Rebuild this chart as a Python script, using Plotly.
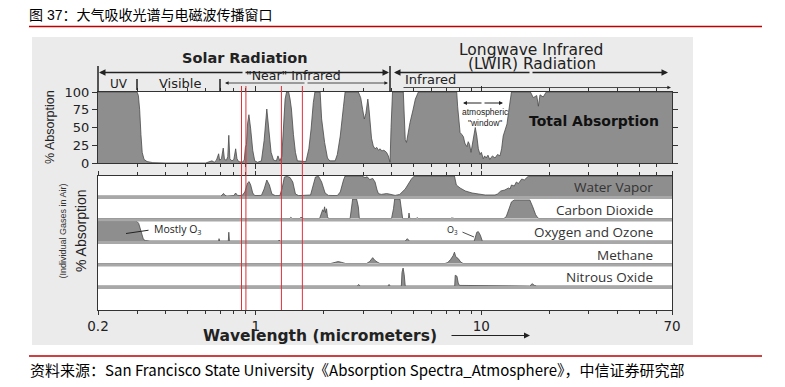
import math
import plotly.graph_objects as go

W, H = 785, 387
def fx(x): return x / W
def fy(y): return 1 - y / H

# ---------------- data ----------------
total_wl = [0.2, 0.298, 0.302, 0.306, 0.310, 0.314, 0.320, 0.330, 0.350, 0.40, 0.60, 0.62, 0.64, 0.655, 0.67,
            0.685, 0.692, 0.705, 0.718, 0.727, 0.742, 0.752, 0.760, 0.768, 0.785, 0.80, 0.815, 0.826, 0.84,
            0.87, 0.89, 0.90, 0.91, 0.92, 0.933, 0.95, 0.97, 0.99, 1.02, 1.06, 1.09, 1.12, 1.14, 1.17, 1.20,
            1.235, 1.255, 1.28, 1.305, 1.32, 1.35, 1.37, 1.40, 1.42, 1.44, 1.47, 1.50, 1.53, 1.60, 1.67, 1.72,
            1.76, 1.80, 1.83, 1.93, 1.96, 2.02, 2.08, 2.13, 2.25, 2.30, 2.37, 2.45, 2.49, 2.85, 2.92, 2.98,
            3.03, 3.08, 3.14, 3.18, 3.21, 3.26, 3.32, 3.38, 3.44, 3.50, 3.56, 3.62, 3.70, 3.80, 3.87, 3.94,
            3.98, 4.04, 4.51, 4.55, 4.60, 4.66, 4.72, 4.83, 4.99, 5.10, 5.26, 7.78, 7.85, 7.93, 8.05, 8.20,
            8.33, 8.45, 8.63, 8.75, 8.87, 9.0, 9.15, 9.3, 9.4, 9.55, 9.7, 9.87, 10.0, 10.2, 10.35, 10.5, 10.7,
            10.9, 11.2, 11.5, 11.8, 12.1, 12.3, 12.5, 12.8, 13.0, 13.2, 13.4, 13.6, 16.5, 17.0, 17.6, 17.9,
            18.2, 18.8, 19.4, 70]
total_abs = [100, 100, 95, 75, 40, 15, 5, 2, 0.5, 0, 0, 2, 3, 1, 4,
             13, 4, 6, 21, 5, 4, 9, 39, 6, 3, 5, 20, 6, 2,
             1, 4, 22, 26, 55, 68, 48, 18, 3, 1, 3, 32, 76, 55, 15, 4,
             3, 10, 3, 9, 40, 90, 100, 100, 90, 76, 40, 15, 3, 2, 2, 20,
             48, 85, 100, 100, 62, 29, 7, 3, 3, 12, 38, 80, 100, 100, 92, 75,
             62, 70, 90, 75, 58, 35, 24, 20, 22, 18, 20, 17, 18, 15, 10, 1,
             50, 100, 100, 60, 33, 29, 40, 57, 76, 90, 100, 100, 80, 62, 43, 40,
             37, 28, 23, 30, 26, 15, 28, 40, 50, 38, 20, 12, 15, 6, 10, 7, 11,
             5, 10, 7, 12, 10, 20, 38, 48, 55, 71, 90, 100, 100, 92, 95, 80,
             96, 93, 100, 100]

water_wl = [0.2, 0.58, 0.59, 0.60, 0.645, 0.655, 0.665, 0.70, 0.71, 0.72, 0.73, 0.745, 0.80, 0.815, 0.83,
            0.87, 0.895, 0.905, 0.92, 0.935, 0.95, 0.97, 0.99, 1.06, 1.09, 1.12, 1.15, 1.18, 1.22, 1.28,
            1.31, 1.34, 1.38, 1.42, 1.46, 1.50, 1.55, 1.75, 1.80, 1.84, 1.90, 1.96, 2.03, 2.10, 2.30, 2.37,
            2.45, 2.49, 2.95, 3.05, 3.12, 3.20, 3.30, 3.38, 3.45, 3.50, 3.60, 3.70, 3.80, 3.90, 4.0, 4.15,
            4.35, 4.6, 4.9, 5.05, 7.6, 7.75, 8.05, 8.5, 9.1, 9.75, 10.4, 11.5, 11.8, 12.2, 12.7, 13.2, 13.4,
            13.6, 14.0, 14.3, 14.6, 15.1, 15.5, 16.2, 70]
water_abs = [0, 0, 2, 0, 0, 2, 0, 0, 5, 13, 4, 0, 2, 15, 3,
             2, 20, 40, 65, 72, 55, 15, 2, 3, 35, 80, 55, 10, 2, 2,
             40, 95, 98, 92, 70, 10, 2, 5, 60, 95, 98, 70, 15, 3, 2, 20,
             80, 100, 100, 92, 96, 82, 88, 70, 30, 12, 8, 10, 12, 10, 6, 3,
             8, 35, 85, 100, 100, 55, 40, 25, 15, 8, 5, 5, 10, 25, 30, 40, 35,
             55, 50, 70, 62, 85, 80, 100, 100]

co2_wl = [0.2, 1.42, 1.43, 1.45, 1.57, 1.58, 1.61, 1.62, 1.92, 1.95, 1.98, 2.0, 2.02, 2.04, 2.06, 2.08,
          2.1, 2.62, 2.66, 2.69, 2.8, 2.85, 2.88, 4.0, 4.08, 4.13, 4.36, 4.42, 4.48, 4.75, 4.78, 4.82,
          5.15, 5.2, 5.25, 7.3, 7.4, 7.6, 8.0, 8.1, 8.4, 12.6, 12.9, 13.2, 13.6, 14.0, 16.4, 16.9, 17.4,
          17.8, 18.0, 70]
co2_abs = [0, 0, 6, 0, 0, 5, 5, 0, 0, 20, 45, 35, 60, 30, 50, 10,
           0, 0, 60, 100, 100, 60, 0, 0, 50, 100, 100, 40, 0, 0, 28, 0,
           0, 5, 0, 0, 3, 0, 0, 3, 0, 0, 10, 40, 85, 95, 95, 60, 20,
           3, 0, 0]

oz_wl = [0.2, 0.298, 0.303, 0.308, 0.313, 0.318, 0.325, 0.34, 0.685, 0.688, 0.692, 0.756, 0.760, 0.765,
         1.26, 1.27, 1.28, 3.2, 3.25, 3.3, 4.6, 4.7, 4.8, 9.3, 9.42, 9.55, 9.7, 9.9, 10.1, 13.0, 13.5,
         15.0, 16.0, 70]
oz_abs = [100, 100, 90, 60, 25, 8, 2, 0, 0, 12, 0, 0, 45, 0,
          0, 5, 0, 0, 3, 0, 0, 12, 0, 0, 20, 45, 48, 30, 0, 0, 3,
          3, 0, 0]

ch4_wl = [0.2, 1.64, 1.67, 1.70, 2.15, 2.25, 2.32, 2.4, 2.5, 3.1, 3.2, 3.3, 3.36, 3.45, 3.55, 6.9, 7.1,
          7.3, 7.5, 7.6, 7.7, 7.9, 8.1, 8.3, 70]
ch4_abs = [0, 0, 3, 0, 0, 6, 10, 6, 0, 0, 10, 30, 18, 8, 0, 0, 5,
           20, 40, 58, 35, 25, 8, 0, 0]

n2o_wl = [0.2, 2.82, 2.86, 2.9, 3.86, 3.9, 3.94, 4.42, 4.45, 4.5, 4.55, 4.6, 7.62, 7.66, 7.8, 7.9, 8.0,
          8.6, 8.7, 16.4, 16.8, 17.2, 17.6, 70]
n2o_abs = [0, 0, 8, 0, 0, 8, 0, 0, 70, 92, 60, 0, 0, 55, 50, 15, 3,
           3, 0, 0, 12, 3, 0, 0]

red_wl = [0.865, 0.905, 1.30, 1.61]

x_ticks = [0.2, 1, 10, 70]
x_ticktext = ["0.2", "1", "10", "70"]
x_minor = [0.3, 0.4, 0.5, 0.6, 0.7, 0.8, 0.9, 2, 3, 4, 5, 6, 7, 8, 9, 20, 30, 40, 50, 60]
y_ticks = [0, 25, 50, 75, 100]

gas_names = ["Water Vapor", "Carbon Dioxide", "Oxygen and Ozone", "Methane", "Nitrous Oxide"]

title = "图 37：大气吸收光谱与电磁波传播窗口"
source = "资料来源：San Francisco State University《Absorption Spectra_Atmosphere》，中信证券研究部"

# ---------------- style ----------------
FILL = "#8e8e8e"
LINE = "#4a4a4a"
AX = "#333333"
DEJ = "DejaVu Sans"
LIB = "Liberation Sans"
CJK = "Noto Sans CJK SC"
OPEN = "Open Sans"
LOGR = [math.log10(0.2), math.log10(70)]
XD = [fx(98), fx(672)]

fig = go.Figure()
layout = dict(width=W, height=H, margin=dict(l=0, r=0, t=0, b=0, autoexpand=False),
              paper_bgcolor="white", plot_bgcolor="rgba(0,0,0,0)",
              showlegend=False, shapes=[], annotations=[])

def sfx(i):
    return "" if i == 1 else str(i)

panels = [
    (total_wl, total_abs, 92, 163),
    (water_wl, water_abs, 176, 196),
    (co2_wl, co2_abs, 199, 218.5),
    (oz_wl, oz_abs, 221.5, 241),
    (ch4_wl, ch4_abs, 244, 263.5),
    (n2o_wl, n2o_abs, 266.5, 286),
]
for i, (wl, ab, top, bot) in enumerate(panels, start=1):
    s = sfx(i)
    fig.add_trace(go.Scatter(x=wl, y=ab, xaxis="x" + s, yaxis="y" + s, mode="lines",
                             fill="tozeroy", fillcolor=FILL,
                             line=dict(color=LINE, width=0.8), hoverinfo="skip"))
    layout["xaxis" + s] = dict(type="log", range=LOGR, domain=XD, anchor="y" + s, visible=False)
    layout["yaxis" + s] = dict(range=[0, 100], domain=[fy(bot), fy(top)], anchor="x" + s, visible=False)

# total panel axes visible
layout["xaxis"] = dict(type="log", range=LOGR, domain=XD, anchor="y", visible=True,
                       showline=True, linecolor=AX, linewidth=1, mirror="ticks",
                       ticks="outside", ticklen=5, tickcolor=AX, tickvals=[1, 10],
                       showticklabels=False, showgrid=False, zeroline=False,
                       minor=dict(tickvals=x_minor, ticks="outside", ticklen=3, tickcolor=AX, showgrid=False))
layout["yaxis"] = dict(range=[0, 100], domain=[fy(163), fy(92)], anchor="x", visible=True,
                       showline=True, linecolor=AX, linewidth=1, mirror="ticks",
                       ticks="outside", ticklen=5, tickcolor=AX, tickvals=y_ticks,
                       tickfont=dict(family=DEJ, size=13, color="#222"),
                       showgrid=False, zeroline=False)

# frame axis for gas panels (bottom wavelength axis)
fig.add_trace(go.Scatter(x=[0.2, 70], y=[0, 0], xaxis="x7", yaxis="y7", mode="lines",
                         opacity=0, hoverinfo="skip"))
layout["xaxis7"] = dict(type="log", range=LOGR, domain=XD, anchor="y7",
                        showline=True, linecolor=AX, linewidth=1, mirror="ticks",
                        ticks="outside", ticklen=4, tickcolor=AX,
                        tickvals=x_ticks, ticktext=x_ticktext,
                        tickfont=dict(family=DEJ, size=13.5, color="#222"),
                        showgrid=False, zeroline=False,
                        minor=dict(tickvals=x_minor, ticks="outside", ticklen=3, tickcolor=AX, showgrid=False))
layout["yaxis7"] = dict(range=[0, 1], domain=[fy(310), fy(176)], anchor="x7",
                        showline=True, linecolor=AX, linewidth=1, mirror=True,
                        ticks="", showticklabels=False, showgrid=False, zeroline=False)

# red reference lines
for wl in red_wl:
    fig.add_trace(go.Scatter(x=[wl, wl], y=[0, 1], xaxis="x8", yaxis="y8", mode="lines",
                             line=dict(color="#e0303a", width=1), hoverinfo="skip"))
layout["xaxis8"] = dict(type="log", range=LOGR, domain=XD, anchor="y8", visible=False)
layout["yaxis8"] = dict(range=[0, 1], domain=[fy(310), fy(86)], anchor="x8", visible=False)

# ---------------- shapes ----------------
def rect(x0, y0, x1, y1, color):
    layout["shapes"].append(dict(type="rect", xref="paper", yref="paper", layer="below",
                                 x0=fx(x0), y0=fy(y0), x1=fx(x1), y1=fy(y1),
                                 fillcolor=color, line=dict(width=0)))

def seg(x0, y0, x1, y1, color="#222", width=1.5):
    layout["shapes"].append(dict(type="line", xref="paper", yref="paper",
                                 x0=fx(x0), y0=fy(y0), x1=fx(x1), y1=fy(y1),
                                 line=dict(color=color, width=width)))

rect(32, 37, 693, 345, "#ebebeb")
rect(98, 92, 672, 163, "white")
rect(98, 176, 672, 310, "white")
for a, b in [(196, 199), (218.5, 221.5), (241, 244), (263.5, 266.5), (286, 289)]:
    rect(98, a, 672, b, "#a8a8a8")

seg(29, 26.5, 762, 26.5, "#c00000", 1.5)
seg(29, 356, 762, 356, "#c00000", 1.5)
seg(98, 66, 98, 92)
seg(390, 66, 390, 92)
seg(137, 79, 137, 90)
seg(220, 79, 220, 91)

# ---------------- annotations ----------------
def text(s, x, y, size, family=DEJ, color="#222", xanchor="center", weight="normal", angle=0):
    layout["annotations"].append(dict(text=s, x=fx(x), y=fy(y), xref="paper", yref="paper",
                                      showarrow=False, xanchor=xanchor, yanchor="middle",
                                      textangle=angle,
                                      font=dict(size=size, family=family, color=color, weight=weight)))

def arrow(xt, yt, xs, ys, head=2, width=1.3, size=1.0, color="#222"):
    layout["annotations"].append(dict(text="", x=fx(xt), y=fy(yt), xref="paper", yref="paper",
                                      ax=xs - xt, ay=ys - yt, axref="pixel", ayref="pixel",
                                      showarrow=True, arrowhead=head, arrowwidth=width,
                                      arrowsize=size, arrowcolor=color, standoff=0, startstandoff=0))

text(title, 27, 15.5, 14, family=LIB + ", " + CJK, color="#000", xanchor="left")
text(source, 28, 369, 15, family=CJK, color="#000", xanchor="left")

text("Solar Radiation", 245, 58, 14.5, weight="bold")
text("Longwave Infrared", 531, 50, 15.5)
text("(LWIR) Radiation", 532, 64, 15.5)
arrow(99, 72.5, 244, 72.5)
arrow(389, 72.5, 244, 72.5)
arrow(394, 72.5, 531, 72.5)
arrow(668, 72.5, 531, 72.5)

text("UV", 118.5, 84, 12)
text("Visible", 179.5, 84, 13)
text("\"Near\" Infrared", 293, 75.5, 12.5)
text("Infrared", 403, 80, 13, xanchor="left")
arrow(225, 83, 306, 83, width=0.8, size=0.9)
arrow(388, 83, 306, 83, width=0.8, size=0.9)
arrow(671, 87.5, 402, 87.5, width=0.8, size=0.9)

text("% Absorption", 50, 127, 12.5, family=LIB, angle=-90)
text("% Absorption", 81, 231, 14, family=LIB, angle=-90)
text("(Individual Gases in Air)", 62, 231.5, 9, family=LIB, color="#333", angle=-90)

text("Total Absorption", 594, 120.5, 14, color="#111", weight="bold")
text("atmospheric<br>\"window\"", 485, 118, 8.5, family=LIB)
arrow(463, 103, 483, 103, width=1, size=0.8)
arrow(503, 103, 483, 103, width=1, size=0.8)

gas_y = [187, 209.5, 232, 254.5, 277]
for name, yy in zip(gas_names, gas_y):
    text(name, 655, yy, 13.5, family=OPEN, color="#333", xanchor="right")

text("Mostly O<sub>3</sub>", 152, 229, 10.5, family=OPEN, xanchor="left")
arrow(126, 233.5, 150, 230, head=0, width=1)
text("O<sub>3</sub>", 452, 230, 9, family=OPEN)
arrow(474, 237, 461, 231.5, head=0, width=0.8)

text("Wavelength (micrometers)", 320, 335.5, 15.5, weight="bold")
arrow(530, 335.5, 450, 335.5, width=1.2)

fig.update_layout(**layout)
fig.write_html("out.html", config={"displayModeBar": False},
               post_script="document.body.style.margin='0';document.body.style.overflow='hidden';")
